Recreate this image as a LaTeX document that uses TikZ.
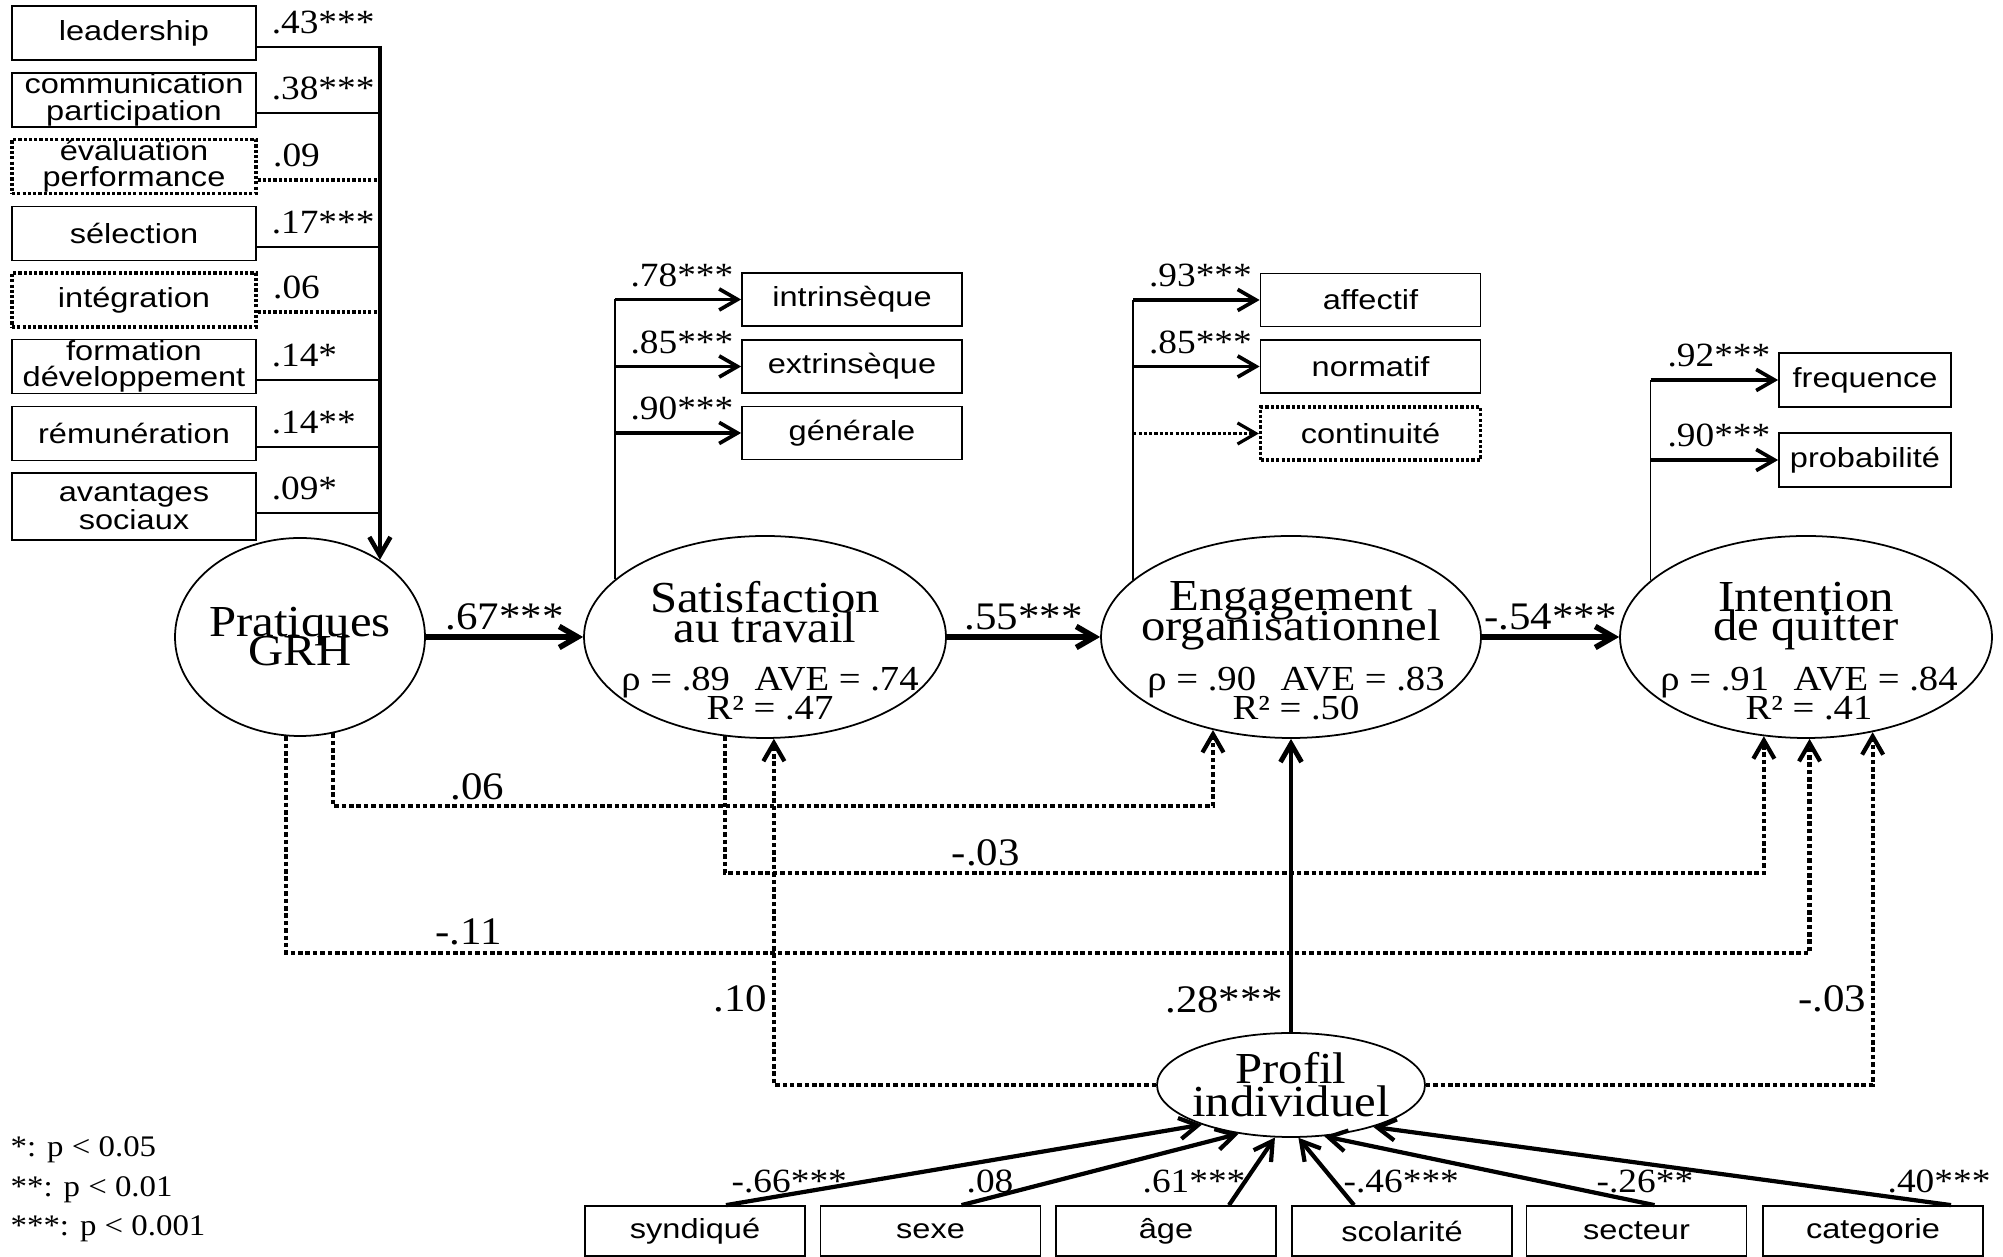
\documentclass[tikz,border=0pt]{standalone}
\usepackage{fontspec}
\setmainfont{Liberation Serif}[FakeStretch=1.1]
\newfontfamily\boxfont{Liberation Sans}[FakeStretch=1.18]
\usetikzlibrary{arrows.meta,positioning,shapes.geometric}
\newcommand{\fsz}[2]{\fontsize{#1}{#2}\selectfont\lineskiplimit=-\maxdimen}

\begin{document}
\begin{tikzpicture}[
  >={Straight Barb[length=5.2pt,width=6pt]},
  every node/.style={inner sep=0pt},
  ind/.style={draw, line width=0.5pt, font={\boxfont\fsz{7.85}{7.5}}, align=center,
              minimum width=2.20cm, minimum height=0.53cm},
  indot/.style={ind, dash pattern=on 0.9pt off 0.6pt, line width=0.9pt},
  lbox/.style={ind, minimum width=2.44cm, minimum height=0.54cm},
  lboxdot/.style={lbox, dash pattern=on 0.9pt off 0.6pt, line width=0.9pt},
  bbox/.style={ind, minimum height=0.50cm},
  lat/.style={draw, ellipse, line width=0.5pt},
  title/.style={font={\fsz{12.6}{8.4}}, align=center, anchor=north},
  stats/.style={font={\fsz{10}{8.25}}, align=center, anchor=north},
  coef/.style={font={\fsz{9.66}{9.66}}},
  coefL/.style={font={\fsz{11.1}{11.1}}},
  branch/.style={line width=0.5pt},
  branchdot/.style={line width=0.9pt, dash pattern=on 0.9pt off 0.6pt},
  busline/.style={line width=1.3pt, ->},
  load/.style={line width=1.05pt, ->},
  mainarr/.style={line width=1.6pt, ->},
  dotarr/.style={line width=1.2pt, dash pattern=on 1.3pt off 0.8pt, ->},
  profarr/.style={line width=1.2pt, ->}
]
\useasboundingbox (0,0) rectangle (20.03,-12.57);

% HR practice indicators
\node[lbox]    (l1) at (1.34,-0.33)  {leadership};
\node[lbox]    (l2) at (1.34,-1.00)  {communication\\participation};
\node[lboxdot] (l3) at (1.34,-1.665) {évaluation\\performance};
\node[lbox]    (l4) at (1.34,-2.335) {sélection};
\node[lboxdot] (l5) at (1.34,-3.00)  {intégration};
\node[lbox]    (l6) at (1.34,-3.665) {formation\\développement};
\node[lbox]    (l7) at (1.34,-4.335) {rémunération};
\node[lbox, minimum height=0.67cm] (l8) at (1.34,-5.065) {avantages\\[0.5pt]sociaux};

% Latent variables
\node[lat, minimum width=2.50cm, minimum height=1.98cm] (pgr)  at (3.00,-6.37)  {};
\node[lat, minimum width=3.62cm, minimum height=2.02cm] (sat)  at (7.65,-6.37)  {};
\node[lat, minimum width=3.80cm, minimum height=2.02cm] (eng)  at (12.91,-6.37) {};
\node[lat, minimum width=3.72cm, minimum height=2.02cm] (itq)  at (18.06,-6.37) {};
\node[lat, minimum width=2.68cm, minimum height=1.04cm] (prof) at (12.91,-10.85) {};

\node[title] (pgrt) at ([yshift=0.31cm]pgr.center) {Pratiques\\GRH};
\node[title] (satt) at ([yshift=0.56cm]sat.center) {Satisfaction\\au travail};
\node[stats] (sats) at ([xshift=0.05cm,yshift=-0.29cm]sat.center) {ρ = .89\hspace{0.7em}AVE = .74\\R² = .47};
\node[title] (engt) at ([yshift=0.56cm]eng.center) {Engagement\\organisationnel};
\node[stats] (engs) at ([xshift=0.05cm,yshift=-0.29cm]eng.center) {ρ = .90\hspace{0.7em}AVE = .83\\R² = .50};
\node[title] (itqt) at ([yshift=0.56cm]itq.center) {Intention\\de quitter};
\node[stats] (itqs) at ([xshift=0.03cm,yshift=-0.29cm]itq.center) {ρ = .91\hspace{0.7em}AVE = .84\\R² = .41};
\node[title] (proft) at ([yshift=0.33cm]prof.center) {Profil\\[1pt]individuel};

% Outcome indicators
\node[ind]   (s1) at (8.52,-2.995)  {intrinsèque};
\node[ind]   (s2) at (8.52,-3.665)  {extrinsèque};
\node[ind]   (s3) at (8.52,-4.33)   {générale};
\node[ind]   (e1) at (13.705,-3.00) {affectif};
\node[ind]   (e2) at (13.705,-3.665){normatif};
\node[indot] (e3) at (13.705,-4.335){continuité};
\node[ind, minimum width=1.72cm, minimum height=0.54cm] (i1) at (18.65,-3.80) {frequence};
\node[ind, minimum width=1.72cm, minimum height=0.54cm] (i2) at (18.65,-4.60) {probabilité};

% Profile indicators
\node[bbox] (syn) at (6.95,-12.31)   {syndiqué};
\node[bbox] (sex) at (9.305,-12.31)  {sexe};
\node[bbox] (age) at (11.66,-12.31)  {âge};
\node[bbox] (sco) at (14.02,-12.31)  {scolarité};
\node[bbox] (sec) at (16.365,-12.31) {secteur};
\node[bbox] (cat) at (18.73,-12.31)  {categorie};

% Formative block into Pratiques GRH
\coordinate (bus) at (pgr.44 |- 0,-0.46);
\draw[busline] (bus) -- (pgr.44);
\foreach \n/\y/\sty/\v in {l1/-0.47/branch/.43***, l2/-1.13/branch/.38***,
                           l3/-1.80/branchdot/.09, l4/-2.47/branch/.17***,
                           l5/-3.12/branchdot/.06, l6/-3.80/branch/.14*,
                           l7/-4.47/branch/.14**, l8/-5.13/branch/.09*}
  \draw[\sty] (\n.east |- 0,\y) -- (bus |- 0,\y)
    node[coef, pos=0, anchor=base west, xshift=0.14cm, yshift=0.13cm] (k\n) {\v};

% Loadings
\draw[branch] (sat.159) -- (sat.159 |- s1.west);
\foreach \b/\v in {s1/.78***, s2/.85***, s3/.90***}
  \draw[load] (sat.159 |- \b.west) -- (\b.west)
    node[coef, pos=1, anchor=base east, xshift=-0.06cm, yshift=0.13cm] (k\b) {\v};
\draw[branch] (eng.160) -- (eng.160 |- e1.west);
\foreach \b/\v in {e1/.93***, e2/.85***}
  \draw[load] (eng.160 |- \b.west) -- (\b.west)
    node[coef, pos=1, anchor=base east, xshift=-0.06cm, yshift=0.13cm] (k\b) {\v};
\draw[load, line width=0.9pt, dash pattern=on 0.9pt off 0.6pt] (eng.160 |- e3.west) -- (e3.west);
\draw[branch] (itq.160) -- (itq.160 |- i1.west);
\foreach \b/\v in {i1/.92***, i2/.90***}
  \draw[load] (itq.160 |- \b.west) -- (\b.west)
    node[coef, pos=1, anchor=base east, xshift=-0.06cm, yshift=0.13cm] (k\b) {\v};

% Structural paths
\draw[mainarr] (pgr) -- (sat) node[coefL, midway, anchor=base, yshift=0.07cm] (k67) {.67***};
\draw[mainarr] (sat) -- (eng) node[coefL, midway, anchor=base, yshift=0.07cm] (k55) {.55***};
\draw[mainarr] (eng) -- (itq) node[coefL, midway, anchor=base, yshift=0.07cm] (k54) {-.54***};

% Non-significant paths
\draw[dotarr] (pgr.-71) -- (pgr.-71 |- 0,-8.06) -| (eng.-130);
\draw[dotarr] (sat.-112) -- (sat.-112 |- 0,-8.73) -| (itq.-113);
\draw[dotarr] (pgr.-98) -- (pgr.-98 |- 0,-9.53) -| (itq.-88);
\draw[dotarr] (prof.west) -| (sat.-85);
\draw[dotarr] (prof.east) -| (itq.-55);
\draw[mainarr, line width=1.4pt] (prof.north) -- (eng.south);

\node[coefL, anchor=base west] (k06)  at (4.50,-8.00)  {.06};
\node[coefL, anchor=base west] (k03a) at (9.51,-8.66)  {-.03};
\node[coefL, anchor=base west] (k11)  at (4.35,-9.45)  {-.11};
\node[coefL, anchor=base east] (k10)  at (7.68,-10.12) {.10};
\node[coefL, anchor=base east] (k28)  at (12.84,-10.13){.28***};
\node[coefL, anchor=base east] (k03b) at (18.67,-10.12){-.03};

% Profile block
\draw[profarr] ([xshift=0.31cm]syn.north) -- (prof.204);
\draw[profarr] ([xshift=0.31cm]sex.north) -- (prof.223);
\draw[profarr] ([xshift=0.63cm]age.north) -- (prof.253);
\draw[profarr] ([xshift=-0.48cm]sco.north) -- (prof.278);
\draw[profarr] ([xshift=0.18cm]sec.north) -- (prof.303);
\draw[profarr] ([xshift=0.78cm]cat.north) -- (prof.333);

\node[coef, anchor=base west] (ksyn) at (7.31,-11.93)  {-.66***};
\node[coef, anchor=base west] (ksex) at (9.66,-11.93)  {.08};
\node[coef, anchor=base west] (kage) at (11.42,-11.93) {.61***};
\node[coef, anchor=base west] (ksco) at (13.43,-11.93) {-.46***};
\node[coef, anchor=base west] (ksec) at (15.96,-11.93) {-.26**};
\node[coef, anchor=base west] (kcat) at (18.87,-11.93) {.40***};

% Legend
\node[font={\fsz{8.5}{11.3}}, align=left, anchor=north west] (legend) at (0.10,-11.36)
  {*: p < 0.05\\**: p < 0.01\\***: p < 0.001};
\end{tikzpicture}
\end{document}
